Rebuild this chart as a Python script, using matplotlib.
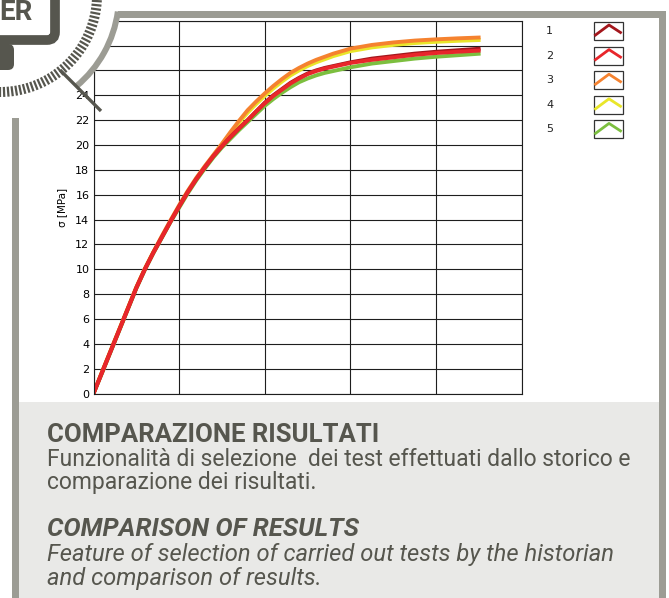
import matplotlib.pyplot as plt
from matplotlib.patches import Rectangle, Wedge, FancyBboxPatch
from matplotlib.lines import Line2D
import numpy as np

# strain (x) and stress sigma [MPa] for the five compared tests
strain = [0, 0.1, 0.2, 0.3, 0.4, 0.5, 0.6, 0.7, 0.8, 0.9, 1.0,
          1.1, 1.2, 1.3, 1.4, 1.5, 1.6, 1.7, 1.8, 1.9, 2.0,
          2.1, 2.2, 2.3, 2.4, 2.5, 2.6, 2.7, 2.8, 2.9, 3.0,
          3.25, 3.5, 3.75, 4.0, 4.25, 4.52]
test1 = [0, 1.7, 3.4, 5.1, 6.8, 8.5, 10.0, 11.35, 12.6, 13.85, 15.05,
         16.2, 17.25, 18.2, 19.1, 19.9, 20.65, 21.35, 22.0, 22.7, 23.4,
         24.0, 24.5, 25.0, 25.4, 25.75, 26.0, 26.2, 26.35, 26.5, 26.65,
         26.95, 27.15, 27.35, 27.5, 27.62, 27.75]
test2 = [0, 1.7, 3.4, 5.1, 6.8, 8.5, 10.0, 11.35, 12.6, 13.85, 15.05,
         16.2, 17.25, 18.2, 19.1, 19.9, 20.65, 21.35, 22.0, 22.7, 23.35,
         23.95, 24.45, 24.95, 25.35, 25.7, 25.95, 26.15, 26.3, 26.45, 26.6,
         26.85, 27.05, 27.25, 27.4, 27.5, 27.6]
test3 = [0, 1.75, 3.45, 5.15, 6.85, 8.55, 10.05, 11.4, 12.7, 13.95, 15.15,
         16.3, 17.35, 18.3, 19.2, 20.1, 21.05, 21.95, 22.8, 23.5, 24.15,
         24.75, 25.3, 25.8, 26.2, 26.55, 26.85, 27.1, 27.35, 27.55, 27.75,
         28.05, 28.25, 28.4, 28.5, 28.58, 28.65]
test4 = [0, 1.75, 3.45, 5.15, 6.85, 8.55, 10.05, 11.4, 12.65, 13.9, 15.1,
         16.25, 17.3, 18.25, 19.15, 20.05, 20.95, 21.8, 22.6, 23.3, 23.95,
         24.55, 25.1, 25.6, 26.0, 26.35, 26.65, 26.9, 27.15, 27.35, 27.55,
         27.85, 28.05, 28.2, 28.3, 28.38, 28.45]
test5 = [0, 1.65, 3.35, 5.05, 6.75, 8.45, 9.95, 11.3, 12.55, 13.8, 14.95,
         16.1, 17.15, 18.1, 19.0, 19.8, 20.5, 21.2, 21.85, 22.5, 23.15,
         23.7, 24.2, 24.65, 25.05, 25.35, 25.6, 25.8, 25.95, 26.1, 26.25,
         26.55, 26.75, 26.95, 27.1, 27.22, 27.35]

series = [test1, test2, test3, test4, test5]
labels = ['1', '2', '3', '4', '5']
colors = ['#a3161c', '#e8262b', '#f5822f', '#e9e62a', '#7cbf3f']
draw_order = [4, 3, 2, 0, 1]

yticks = list(range(0, 31, 2))
xticks = [0, 1, 2, 3, 4, 5]

W, H = 669, 598
fig = plt.figure(figsize=(W / 100, H / 100), dpi=100)
fig.patch.set_facecolor('white')

frame_gray = '#9c9c94'
dark = '#56564e'

# background: frame and caption panel (pixel coordinates)
bg = fig.add_axes([0, 0, 1, 1], zorder=0)
bg.set_xlim(0, W)
bg.set_ylim(H, 0)
bg.axis('off')
bg.add_patch(Rectangle((100, 11), 566, 7, color=frame_gray, lw=0))
bg.add_patch(Rectangle((659, 11), 7, H, color=frame_gray, lw=0))
bg.add_patch(Rectangle((12, 118), 7, H, color=frame_gray, lw=0))
bg.add_patch(Rectangle((19, 402), 640, H, color='#e9e9e7', lw=0))

# chart
ax = fig.add_axes([93.5 / W, 1 - 393.5 / H, 428.2 / W, 372.8 / H], zorder=1)
for i in draw_order:
    ax.plot(strain, series[i], color=colors[i], lw=2.8, solid_capstyle='butt')
ax.set_xlim(0, 5)
ax.set_ylim(0, 30)
ax.set_yticks(yticks)
ax.set_xticks(xticks)
ax.set_xticklabels([])
ax.grid(True, color='#1e1e1e', lw=0.8)
ax.set_axisbelow(True)
ax.tick_params(length=0, pad=3, labelsize=8)
for s in ax.spines.values():
    s.set_color('#1e1e1e')
    s.set_linewidth(0.8)
ax.set_ylabel('σ [MPa]', fontsize=7.5)
ax.yaxis.set_label_coords(-0.062, 0.5)

# overlay: logo dial, legend, captions
ov = fig.add_axes([0, 0, 1, 1], zorder=5)
ov.set_xlim(0, W)
ov.set_ylim(H, 0)
ov.axis('off')
ov.patch.set_alpha(0)

cx, cy = 0, -5
ov.add_patch(Wedge((cx, cy), 119, -10, 100, color='white', lw=0))
ov.add_patch(Wedge((cx, cy), 122, 8, 50, width=6, color=frame_gray, lw=0))
for a in np.deg2rad(np.arange(-6, 96, 2.4)):
    ov.plot([cx + 92 * np.cos(a), cx + 102 * np.cos(a)],
            [cy + 92 * np.sin(a), cy + 102 * np.sin(a)],
            color=dark, lw=1.6, solid_capstyle='butt')
ov.add_patch(FancyBboxPatch((-40, -40), 95, 80, boxstyle='round,pad=0,rounding_size=8',
                            fc='white', ec=dark, lw=7))
ov.add_patch(FancyBboxPatch((-20, 44), 34, 26, boxstyle='round,pad=0,rounding_size=6',
                            fc=dark, ec='none'))
ov.text(33, 20, 'ER', ha='right', va='baseline', fontsize=20,
        fontweight='bold', family='Roboto', color=dark)
ov.plot([60, 101], [70, 111], color=dark, lw=2.4, solid_capstyle='butt')

# legend
for i, (lab, c) in enumerate(zip(labels, colors)):
    yc = 31 + i * 24.6
    ov.text(546, yc, lab, ha='left', va='center', fontsize=8, color='#222222')
    ov.add_patch(Rectangle((593.5, yc - 9), 29, 18, fc='white', ec='#333333', lw=0.9))
    ov.add_line(Line2D([595.5, 609, 620.5], [yc + 4, yc - 6, yc + 1.5],
                       color=c, lw=2.0))

# captions
ov.text(47, 441.5, 'COMPARAZIONE RISULTATI', fontsize=18.5, fontweight='bold',
        family='Roboto', color=dark, va='baseline')
ov.text(47, 466, 'Funzionalità di selezione  dei test effettuati dallo storico e',
        fontsize=16.5, family='Roboto', color=dark, va='baseline')
ov.text(47, 489, 'comparazione dei risultati.',
        fontsize=16.5, family='Roboto', color=dark, va='baseline')
ov.text(47, 536.5, 'COMPARISON OF RESULTS', fontsize=18.5, fontweight='bold',
        fontstyle='italic', family='Roboto', color=dark, va='baseline')
ov.text(47, 561.5, 'Feature of selection of carried out tests by the historian',
        fontsize=17.1, fontstyle='italic', family='Roboto', color=dark, va='baseline')
ov.text(47, 585, 'and comparison of results.',
        fontsize=17.1, fontstyle='italic', family='Roboto', color=dark, va='baseline')

fig.savefig('out.png', dpi=100)
